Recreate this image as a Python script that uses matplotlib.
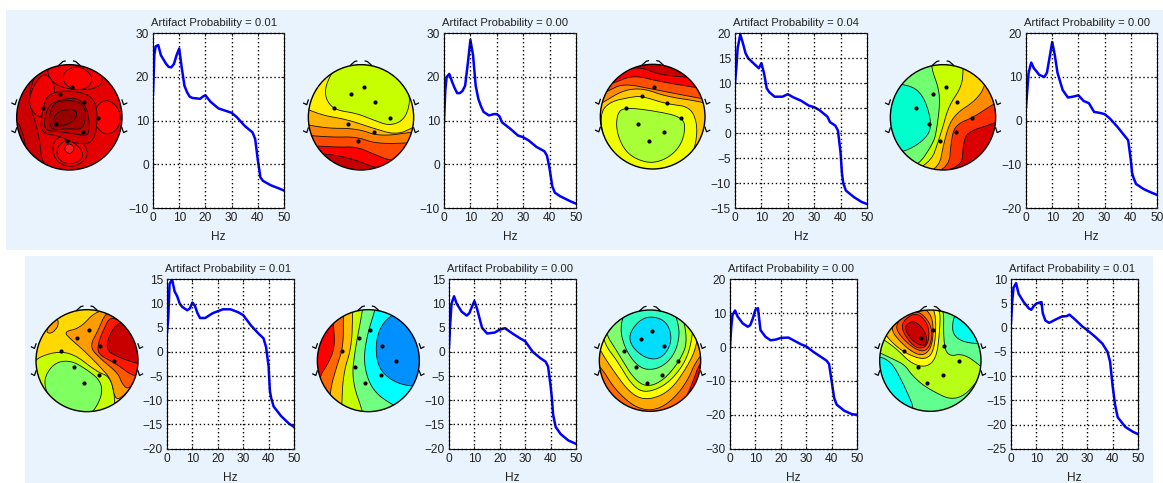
import numpy as np
import matplotlib
matplotlib.use("Agg")
import matplotlib.pyplot as plt
from matplotlib.patches import Circle, Rectangle

W, H = 1163, 483
plt.rcParams['font.family'] = ['Liberation Sans', 'DejaVu Sans']

# spectra, (Hz, dB)
hz1 = [0, .5, 1, 2, 3, 4, 5, 6, 7, 8, 9, 10, 11, 12, 13, 14, 15, 18, 19, 20, 22, 25, 28, 30, 32, 35, 37, 38, 39, 40, 40.5, 41, 42, 45, 48, 50]
db1 = [16, 25, 27, 27.3, 25, 24, 23, 22.3, 22.2, 23, 25, 26.5, 22, 18, 16.5, 15.5, 15.2, 15, 15.5, 15.8, 14.3, 12.8, 12.2, 11.8, 10.8, 8.8, 7.8, 7.3, 5.8, 1, -1, -3, -3.8, -4.8, -5.5, -6]
hz2 = [0, .5, 1, 2, 3, 4, 5, 6, 7, 8, 9, 10, 11, 12, 13, 14, 15, 17, 19, 20, 21, 22, 25, 28, 30, 32, 35, 38, 39, 40, 41, 42, 44, 48, 50]
db2 = [10, 17, 20, 20.7, 19, 17.5, 16.3, 16.3, 16.8, 18, 23, 28.5, 25, 18, 15, 13.3, 12, 11.2, 11.5, 11.5, 11, 9.6, 8.2, 6.6, 6.2, 5.5, 4, 3, 2, -1, -5, -6.5, -7.3, -8.5, -9]
hz3 = [0, .5, 1, 2, 3, 4, 5, 7, 9, 10, 11, 12, 13, 15, 18, 20, 22, 25, 28, 30, 32, 35, 36, 38, 39, 40, 40.5, 41, 42, 45, 48, 50]
db3 = [10, 13, 17, 19.8, 18, 16, 15, 14, 13, 14, 12, 9, 8.2, 7.3, 7.3, 7.8, 7.2, 6.5, 5.5, 5.2, 4.6, 3.3, 2.2, 1.5, .5, -4, -8, -10, -11.5, -12.8, -13.8, -14.2]
hz4 = [0, .5, 1, 2, 3, 4, 5, 7, 8, 9, 10, 11, 12, 13, 14, 16, 18, 20, 22, 24, 26, 28, 30, 32, 35, 37, 39, 40, 40.5, 41, 42, 45, 48, 50]
db4 = [3, 7, 11, 13.3, 12, 11.3, 10.5, 10, 11, 14.5, 18, 15, 11, 9, 7, 5.3, 5.5, 5.8, 4.5, 4, 2, 1.8, 1.5, .5, -1.5, -3, -4.5, -9, -12, -13, -14.5, -15.7, -16.5, -17]
hz5 = [0, .5, 1, 2, 3, 4, 5, 6, 8, 9, 10, 11, 12, 13, 15, 18, 22, 25, 28, 30, 33, 36, 38, 39, 40, 40.5, 41, 42, 45, 48, 50]
db5 = [4, 7, 14, 15, 12.5, 11.5, 10, 9.3, 8.6, 9, 10.2, 9.5, 8, 7, 7, 8, 8.8, 8.8, 8.2, 7.6, 5.5, 3.8, 2.8, 1, -3, -8, -9.5, -11.3, -13.3, -14.8, -15.5]
hz6 = [0, .5, 1, 2, 3, 5, 7, 8, 9, 10, 11, 12, 13, 15, 18, 20, 22, 25, 28, 30, 33, 36, 38, 39, 40, 40.5, 41, 42, 44, 47, 50]
db6 = [1, 6, 10, 11.5, 10, 8.3, 7.5, 8, 9.3, 10.5, 9, 7, 5, 3.8, 4, 4.6, 4.9, 3.8, 2.8, 2.2, 0, -1.3, -2, -3, -7, -9.5, -13, -15.5, -17, -18.3, -19]
hz7 = [0, .5, 1, 2, 3, 5, 7, 8, 9, 10, 11, 12, 14, 16, 18, 20, 23, 25, 28, 30, 33, 36, 38, 39, 40, 41, 42, 45, 48, 50]
db7 = [0, 6, 9.5, 10.8, 9, 7, 6, 6.5, 8.5, 11, 11.5, 5, 3, 2, 2.2, 2.7, 2.8, 2, .8, .2, -1.5, -3, -4, -5, -10, -15, -17, -18.8, -19.8, -20]
hz8 = [0, .5, 1, 2, 3, 5, 7, 8, 9, 10, 12, 12.5, 13.5, 15, 18, 20, 22, 23, 25, 28, 30, 33, 36, 38, 39, 40, 41, 42, 45, 48, 50]
db8 = [1, 5.5, 8.3, 9.2, 7, 5.3, 4, 3.7, 4.5, 5, 5.3, 3, 1.5, 1, 1.8, 2.3, 2.4, 2.7, 1.8, .3, -.5, -1.8, -3.3, -5, -7, -12, -16, -18.5, -20.5, -21.5, -22]

titles = ['Artifact Probability = 0.01', 'Artifact Probability = 0.00', 'Artifact Probability = 0.04', 'Artifact Probability = 0.00',
          'Artifact Probability = 0.01', 'Artifact Probability = 0.00', 'Artifact Probability = 0.00', 'Artifact Probability = 0.01']
yticks = [np.arange(-10, 31, 10), np.arange(-10, 31, 10), np.arange(-15, 21, 5), np.arange(-20, 21, 10),
          np.arange(-20, 16, 5), np.arange(-20, 16, 5), np.arange(-30, 21, 10), np.arange(-25, 11, 5)]

# scalp maps: head centre and radius, electrodes, base colour and contour regions
head1 = (208, 352, 158)
dots1 = [(217, 260), (180, 283), (252, 307), (128, 323), (294, 355), (168, 372), (248, 397), (200, 424)]
base1 = '#CC0000'
layers1 = [
    ('#B80000', [(52, 362), (70, 400), (92, 520), (20, 520), (20, 362)]),
    ('#E40000', [(120, 195), (80, 290), (118, 400), (128, 520), (300, 500), (380, 400), (380, 300), (300, 180)]),
    ('#F40000', [(140, 190), (148, 245), (215, 272), (300, 265), (310, 225), (270, 180)]),
    ('#FF0000', [(190, 215), (235, 195), (278, 225), (270, 262), (225, 272), (190, 250)]),
    ('#F00000', [(125, 215), (80, 300), (110, 355), (150, 340), (165, 285), (160, 240)]),
    ('#FF0000', [(322, 295), (362, 330), (358, 385), (318, 408), (282, 375), (285, 320)]),
    ('#F40000', [(155, 425), (200, 400), (250, 425), (268, 470), (220, 505), (165, 485)]),
    ('#FF0000', [(168, 445), (200, 415), (245, 445), (250, 478), (210, 495), (175, 480)]),
    ('#FF2020', [(190, 445), (208, 428), (226, 445), (208, 465)]),
    ('#D00000', [(145, 272), (260, 275), (295, 320), (285, 430), (225, 432), (180, 408), (122, 400), (125, 340)]),
    ('#BC0000', [(155, 302), (255, 290), (275, 410), (225, 402), (180, 395), (132, 392), (135, 345)]),
    ('#A80000', [(170, 300), (258, 305), (255, 390), (200, 385), (150, 392), (148, 335)]),
    ('#980000', [(180, 330), (235, 328), (222, 368), (165, 382), (158, 355)]),
]
head2 = (183, 352, 158)
dots2 = [(191, 260), (154, 283), (226, 307), (102, 324), (270, 355), (143, 372), (222, 397), (175, 424)]
base2 = '#C40000'
layers2 = [
    ('#FF0000', [(-40, 455), (90, 462), (170, 480), (240, 510), (420, 510), (420, -40), (-40, -40)]),
    ('#FF4A00', [(-40, 432), (110, 442), (170, 440), (220, 462), (280, 485), (420, 490), (420, -40), (-40, -40)]),
    ('#FF8000', [(-40, 400), (90, 412), (170, 410), (230, 432), (345, 428), (420, 428), (420, -40), (-40, -40)]),
    ('#FFB400', [(-40, 360), (70, 385), (170, 385), (240, 410), (345, 395), (420, 390), (420, -40), (-40, -40)]),
    ('#FFF000', [(-40, 300), (60, 345), (140, 358), (220, 385), (290, 405), (345, 380), (420, 340), (420, -40), (-40, -40)]),
    ('#C8FF00', [(75, 260), (105, 200), (170, 185), (265, 200), (318, 260), (332, 300), (315, 358), (270, 378), (220, 360), (170, 340), (105, 330), (78, 300)]),
]
head3 = (188, 350, 157)
dots3 = [(193, 262), (157, 287), (230, 308), (107, 323), (274, 355), (144, 372), (223, 396), (178, 424)]
base3 = '#C80000'
layers3 = [
    ('#FF0000', [(90, 212), (150, 200), (210, 225), (300, 232), (420, 250), (420, 540), (-40, 540), (-40, 260)]),
    ('#FF5000', [(70, 250), (130, 225), (210, 245), (315, 262), (420, 280), (420, 540), (-40, 540), (-40, 280)]),
    ('#FF8C00', [(50, 275), (100, 250), (190, 268), (330, 295), (420, 310), (420, 540), (-40, 540), (-40, 320)]),
    ('#FFC800', [(35, 310), (100, 270), (160, 265), (230, 290), (335, 305), (420, 330), (420, 540), (-40, 540), (-40, 350)]),
    ('#F0FF00', [(30, 340), (60, 305), (120, 292), (155, 288), (230, 312), (300, 320), (322, 370), (318, 430), (300, 480), (200, 530), (100, 510), (40, 420)]),
    ('#A8FF38', [(100, 322), (190, 332), (282, 352), (285, 400), (265, 448), (220, 482), (170, 490), (110, 462), (80, 400), (80, 345)]),
]
head4 = (189, 352, 158)
dots4 = [(197, 260), (158, 283), (230, 307), (108, 323), (275, 355), (148, 372), (227, 397), (180, 423)]
base4 = '#D80000'
layers4 = [
    ('#FF3000', [(-40, -40), (420, -40), (420, 330), (345, 370), (270, 392), (250, 420), (245, 520), (-40, 520)]),
    ('#FF8C00', [(-40, -40), (420, -40), (420, 270), (340, 312), (280, 352), (235, 370), (215, 400), (205, 530), (-40, 530)]),
    ('#FFD800', [(-40, -40), (380, -40), (320, 250), (290, 300), (220, 345), (195, 410), (172, 530), (-40, 530)]),
    ('#C8FF00', [(-40, -40), (255, -40), (250, 210), (245, 260), (205, 320), (185, 395), (145, 510), (-40, 530)]),
    ('#70FF70', [(-40, -40), (140, -40), (150, 195), (175, 260), (180, 310), (170, 390), (160, 430), (105, 510), (-40, 530)]),
    ('#00FFCC', [(-40, 250), (70, 250), (125, 275), (155, 360), (145, 412), (70, 460), (-40, 465)]),
]
head5 = (201, 332, 153)
dots5 = [(207, 240), (171, 264), (240, 287), (122, 303), (283, 333), (161, 350), (237, 374), (191, 400)]
base5 = '#FFD800'
layers5 = [
    ('#FFA000', [(75, 245), (108, 195), (118, 225), (95, 252)]),
    ('#C8FF00', [(30, 335), (100, 305), (160, 310), (230, 365), (270, 380), (285, 440), (282, 490), (200, 510), (30, 430)]),
    ('#80FF60', [(65, 402), (98, 340), (150, 330), (200, 358), (245, 395), (245, 445), (205, 505), (115, 485)]),
    ('#FF9C00', [(130, 245), (180, 235), (230, 180), (300, 180), (380, 320), (360, 380), (310, 440), (285, 450), (275, 390), (240, 350), (190, 300), (155, 270)]),
    ('#FF5800', [(208, 290), (235, 240), (258, 185), (300, 185), (375, 320), (350, 385), (325, 420), (305, 400), (295, 370), (240, 325)]),
    ('#FF1800', [(232, 292), (245, 250), (278, 185), (365, 295), (380, 375), (340, 380), (290, 342), (238, 315)]),
    ('#C80000', [(250, 295), (295, 205), (360, 240), (385, 350), (300, 325)]),
]
head6 = (205, 332, 153)
dots6 = [(211, 240), (177, 264), (246, 287), (127, 303), (288, 333), (166, 350), (242, 374), (196, 400)]
base6 = '#FF0000'
layers6 = [
    ('#FF6800', [(100, 150), (100, 222), (105, 290), (85, 340), (55, 385), (30, 530), (420, 530), (420, 150)]),
    ('#FFC000', [(130, 150), (130, 195), (130, 290), (110, 350), (90, 420), (85, 530), (420, 530), (420, 150)]),
    ('#C8FF00', [(158, 150), (158, 190), (155, 290), (130, 370), (125, 465), (125, 530), (420, 530), (420, 150)]),
    ('#70FF80', [(190, 150), (188, 180), (165, 300), (155, 390), (190, 490), (195, 530), (420, 530), (420, 150)]),
    ('#00FFFF', [(230, 150), (225, 180), (200, 260), (190, 340), (215, 420), (280, 468), (420, 530), (420, 150)]),
    ('#0090FF', [(280, 185), (230, 245), (228, 340), (268, 390), (335, 412), (420, 400), (420, 150)]),
]
head7 = (180, 332, 152)
dots7 = [(185, 243), (152, 267), (221, 287), (103, 302), (265, 333), (139, 350), (215, 374), (172, 400)]
base7 = '#FF0000'
layers7 = [
    ('#FF6A00', [(-40, 100), (-40, 470), (60, 490), (170, 540), (262, 490), (300, 420), (335, 320), (420, 260), (420, 100)]),
    ('#FFA800', [(-40, 290), (30, 345), (75, 420), (145, 480), (215, 478), (285, 410), (328, 310), (420, 250), (420, 100), (-40, 100)]),
    ('#FFFF00', [(5, 250), (30, 300), (65, 355), (120, 430), (170, 452), (240, 425), (295, 345), (322, 285), (345, 100), (5, 100)]),
    ('#C8FF00', [(30, 220), (45, 285), (80, 330), (125, 405), (165, 430), (230, 405), (285, 340), (308, 265), (315, 130), (30, 130)]),
    ('#80FF70', [(40, 240), (85, 310), (130, 385), (170, 412), (220, 392), (270, 332), (295, 270), (265, 150), (60, 150)]),
    ('#30FFC0', [(88, 230), (115, 165), (245, 165), (270, 235), (262, 292), (237, 335), (195, 360), (148, 355), (106, 300)]),
    ('#00DDFF', [(118, 245), (165, 196), (230, 210), (248, 272), (218, 325), (170, 328), (122, 288)]),
]
head8 = (181, 332, 152)
dots8 = [(189, 240), (153, 263), (223, 287), (103, 303), (266, 333), (143, 350), (220, 374), (172, 400)]
base8 = '#60FF90'
layers8 = [
    ('#00FFEE', [(248, 190), (300, 165), (380, 285), (248, 275)]),
    ('#00FFEE', [(0, 315), (60, 328), (100, 400), (145, 505), (0, 510)]),
    ('#B8FF18', [(0, 295), (65, 325), (105, 345), (125, 375), (170, 415), (265, 460), (345, 365), (335, 350), (280, 310), (235, 320), (220, 280), (222, 150), (140, 150), (0, 235)]),
    ('#FFFF00', [(20, 255), (80, 190), (150, 155), (212, 165), (208, 260), (198, 325), (170, 352), (125, 342), (75, 292)]),
    ('#FFC000', [(38, 240), (150, 150), (198, 170), (196, 295), (168, 332), (105, 310), (60, 272)]),
    ('#FF8000', [(52, 228), (125, 165), (188, 185), (190, 285), (158, 322), (105, 292)]),
    ('#FF4C00', [(72, 222), (135, 172), (188, 225), (182, 292), (150, 308), (95, 265)]),
    ('#FF1400', [(95, 215), (140, 185), (178, 225), (175, 288), (140, 298), (100, 252)]),
    ('#C80000', [(105, 225), (135, 210), (170, 250), (170, 290), (135, 280), (110, 250)]),
]


def px_axes(x0, y0, x1, y1):
    return [x0 / W, 1 - y1 / H, (x1 - x0) / W, (y1 - y0) / H]


def smooth(points, rounds=3):
    # corner cutting so the hand read outlines come out as curves
    pts = np.array(points, dtype=float)
    for _ in range(rounds):
        nxt = np.roll(pts, -1, axis=0)
        pts = np.column_stack([.75 * pts + .25 * nxt, .25 * pts + .75 * nxt]).reshape(-1, 2)
    return pts


def draw_map(ox, oy, head, dots, base, layers):
    ax = fig.add_axes(px_axes(ox, oy, ox + 290, oy + 230))
    ax.set_xlim(0, 870)
    ax.set_ylim(690, 0)
    ax.axis('off')
    ax.patch.set_alpha(0)
    cx, cy, r = head
    clip = Circle((cx, cy), r, transform=ax.transData)
    ax.add_patch(Circle((cx, cy), r, facecolor=base, edgecolor='none'))
    for color, points in layers:
        pts = smooth(points)
        for patch in ax.fill(pts[:, 0], pts[:, 1], facecolor=color, edgecolor='#101010', lw=.6):
            patch.set_clip_path(clip)
    ax.add_patch(Circle((cx, cy), r, fill=False, edgecolor='black', lw=1))
    ax.plot([d[0] for d in dots], [d[1] for d in dots], 'o', color='black', ms=3, mew=0)
    # nose and ears
    for sx in (-1, 1):
        ax.plot(cx + sx * r * np.array([.08, .12, .2]), cy - r * np.array([1.07, 1.06, .99]), color='black', lw=.9)
        for sy in (.25, -.28):
            ax.plot(cx + sx * r * np.array([1.0, 1.03, 1.09]), cy - r * np.array([sy + .08, sy - .01, sy + .02]), color='black', lw=.9)


def draw_spectrum(box, hz, db, ticks, title):
    ax = fig.add_axes(px_axes(*box))
    ax.plot(hz, db, color='#0000FF', lw=1.8)
    ax.set_xlim(0, 50)
    ax.set_ylim(ticks[0], ticks[-1])
    ax.set_xticks(np.arange(0, 51, 10))
    ax.set_yticks(ticks)
    ax.tick_params(direction='in', length=2, width=.7, top=True, right=True, labelsize=8.6, pad=3, colors='#222222')
    ax.grid(True, color='black', lw=1, ls=(0, (1, 1.9)))
    for line in ax.get_xgridlines() + ax.get_ygridlines():
        line.set_clip_on(False)
    ax.set_axisbelow(False)
    ax.set_xlabel('Hz', fontsize=8.6, labelpad=5, color='#222222')
    ax.annotate(title, xy=(0, 1), xycoords='axes fraction', xytext=(-1.5, 5.5), textcoords='offset points',
                fontsize=8.1, color='#222222')


fig = plt.figure(figsize=(W / 100, H / 100), dpi=100, facecolor='white')
fig.patches.append(Rectangle((6 / W, 1 - 250 / H), 1157 / W, 240 / H, transform=fig.transFigure, facecolor='#E8F3FE', edgecolor='none', zorder=-1))
fig.patches.append(Rectangle((25 / W, 0), 1128 / W, 227 / H, transform=fig.transFigure, facecolor='#E8F3FE', edgecolor='none', zorder=-1))

draw_map(0, 0, head1, dots1, base1, layers1)
draw_map(300, 0, head2, dots2, base2, layers2)
draw_map(590, 0, head3, dots3, base3, layers3)
draw_map(880, 0, head4, dots4, base4, layers4)
draw_map(20, 250, head5, dots5, base5, layers5)
draw_map(300, 250, head6, dots6, base6, layers6)
draw_map(590, 250, head7, dots7, base7, layers7)
draw_map(870, 250, head8, dots8, base8, layers8)

draw_spectrum((153, 33.3, 284, 208), hz1, db1, yticks[0], titles[0])
draw_spectrum((444, 33.3, 576, 208), hz2, db2, yticks[1], titles[1])
draw_spectrum((735, 33.3, 867, 208), hz3, db3, yticks[2], titles[2])
draw_spectrum((1026, 33.3, 1157, 208), hz4, db4, yticks[3], titles[3])
draw_spectrum((167, 279.3, 294, 448.7), hz5, db5, yticks[4], titles[4])
draw_spectrum((449, 279.3, 576, 448.7), hz6, db6, yticks[5], titles[5])
draw_spectrum((730, 279.3, 857, 448.7), hz7, db7, yticks[6], titles[6])
draw_spectrum((1011, 279.3, 1138, 448.7), hz8, db8, yticks[7], titles[7])

fig.savefig('out.png', dpi=100)
